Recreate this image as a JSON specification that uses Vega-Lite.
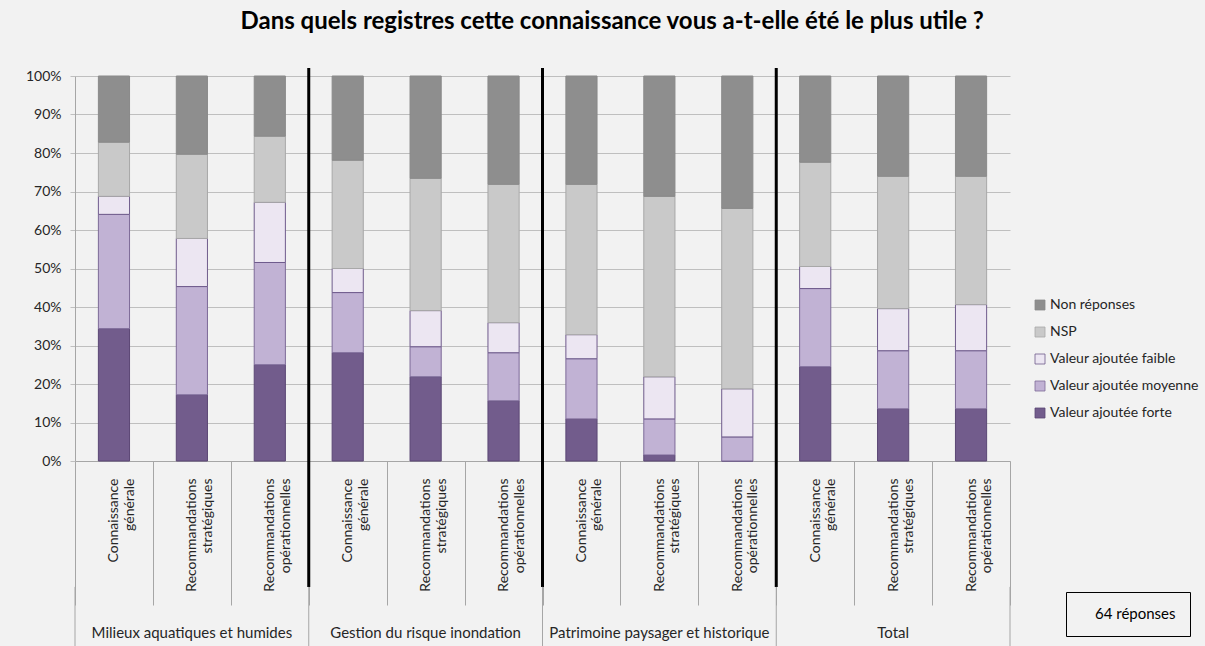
{
  "$schema": "https://vega.github.io/schema/vega-lite/v6.json",
  "width": 935,
  "height": 385,
  "autosize": {"type": "none"},
  "padding": {"left": 75, "top": 76, "right": 195, "bottom": 185},
  "background": "#f2f2f2",
  "config": {
    "view": {"stroke": null},
    "font": "Lato",
    "axisY": {"tickCount": 10, "tickSize": 5, "labelPadding": 9, "labelFontSize": 14, "labelColor": "#262626", "gridColor": "#bfbfbf", "gridWidth": 1.2, "tickColor": "#bfbfbf", "domainColor": "#a6a6a6"}
  },
  "title": {
    "text": "Dans quels registres cette connaissance vous a-t-elle été le plus utile ?",
    "font": "Lato", "fontSize": 24, "fontWeight": "bold", "color": "#000000",
    "anchor": "middle", "frame": "bounds", "offset": 32
  },
  "data": {"values": [
    {"groupe": "Milieux aquatiques et humides", "registre": "Connaissance générale", "barre": "Milieux aquatiques et humides / Connaissance générale", "Valeur ajoutée forte": 22, "Valeur ajoutée moyenne": 19, "Valeur ajoutée faible": 3, "NSP": 9, "Non réponses": 11},
    {"groupe": "Milieux aquatiques et humides", "registre": "Recommandations stratégiques", "barre": "Milieux aquatiques et humides / Recommandations stratégiques", "Valeur ajoutée forte": 11, "Valeur ajoutée moyenne": 18, "Valeur ajoutée faible": 8, "NSP": 14, "Non réponses": 13},
    {"groupe": "Milieux aquatiques et humides", "registre": "Recommandations opérationnelles", "barre": "Milieux aquatiques et humides / Recommandations opérationnelles", "Valeur ajoutée forte": 16, "Valeur ajoutée moyenne": 17, "Valeur ajoutée faible": 10, "NSP": 11, "Non réponses": 10},
    {"groupe": "Gestion du risque inondation", "registre": "Connaissance générale", "barre": "Gestion du risque inondation / Connaissance générale", "Valeur ajoutée forte": 18, "Valeur ajoutée moyenne": 10, "Valeur ajoutée faible": 4, "NSP": 18, "Non réponses": 14},
    {"groupe": "Gestion du risque inondation", "registre": "Recommandations stratégiques", "barre": "Gestion du risque inondation / Recommandations stratégiques", "Valeur ajoutée forte": 14, "Valeur ajoutée moyenne": 5, "Valeur ajoutée faible": 6, "NSP": 22, "Non réponses": 17},
    {"groupe": "Gestion du risque inondation", "registre": "Recommandations opérationnelles", "barre": "Gestion du risque inondation / Recommandations opérationnelles", "Valeur ajoutée forte": 10, "Valeur ajoutée moyenne": 8, "Valeur ajoutée faible": 5, "NSP": 23, "Non réponses": 18},
    {"groupe": "Patrimoine paysager et historique", "registre": "Connaissance générale", "barre": "Patrimoine paysager et historique / Connaissance générale", "Valeur ajoutée forte": 7, "Valeur ajoutée moyenne": 10, "Valeur ajoutée faible": 4, "NSP": 25, "Non réponses": 18},
    {"groupe": "Patrimoine paysager et historique", "registre": "Recommandations stratégiques", "barre": "Patrimoine paysager et historique / Recommandations stratégiques", "Valeur ajoutée forte": 1, "Valeur ajoutée moyenne": 6, "Valeur ajoutée faible": 7, "NSP": 30, "Non réponses": 20},
    {"groupe": "Patrimoine paysager et historique", "registre": "Recommandations opérationnelles", "barre": "Patrimoine paysager et historique / Recommandations opérationnelles", "Valeur ajoutée forte": 0, "Valeur ajoutée moyenne": 4, "Valeur ajoutée faible": 8, "NSP": 30, "Non réponses": 22},
    {"groupe": "Total", "registre": "Connaissance générale", "barre": "Total / Connaissance générale", "Valeur ajoutée forte": 47, "Valeur ajoutée moyenne": 39, "Valeur ajoutée faible": 11, "NSP": 52, "Non réponses": 43},
    {"groupe": "Total", "registre": "Recommandations stratégiques", "barre": "Total / Recommandations stratégiques", "Valeur ajoutée forte": 26, "Valeur ajoutée moyenne": 29, "Valeur ajoutée faible": 21, "NSP": 66, "Non réponses": 50},
    {"groupe": "Total", "registre": "Recommandations opérationnelles", "barre": "Total / Recommandations opérationnelles", "Valeur ajoutée forte": 26, "Valeur ajoutée moyenne": 29, "Valeur ajoutée faible": 23, "NSP": 64, "Non réponses": 50}
  ]},
  "layer": [
    {
      "transform": [
        {"fold": ["Valeur ajoutée forte", "Valeur ajoutée moyenne", "Valeur ajoutée faible", "NSP", "Non réponses"], "as": ["serie", "n"]},
        {"window": [{"op": "row_number", "as": "rang"}], "groupby": ["barre"]}
      ],
      "mark": {"type": "bar", "width": {"band": 0.4}, "strokeWidth": 1},
      "encoding": {
        "x": {
          "field": "barre", "type": "nominal", "sort": null,
          "scale": {"paddingInner": 0, "paddingOuter": 0},
          "axis": {
            "title": null, "grid": false,
            "labelExpr": "length(split(datum.label, ' / ')) > 1 ? split(split(datum.label, ' / ')[1], ' ') : ''",
            "labelAngle": -90, "labelAlign": "right", "labelBaseline": "middle",
            "labelPadding": -127, "labelFontSize": 14, "labelLineHeight": 15.5,
            "labelColor": "#262626", "labelOverlap": false, "labelLimit": 0,
            "tickBand": "extent", "tickSize": 144, "tickColor": "#a6a6a6",
            "domainColor": "#a6a6a6"
          }
        },
        "y": {
          "field": "n", "type": "quantitative", "stack": "normalize",
          "scale": {"domain": [0, 1]},
          "axis": {"title": null, "format": "%", "tickCount": 10}
        },
        "order": {"field": "rang", "type": "quantitative"},
        "color": {
          "field": "serie", "type": "nominal",
          "scale": {
            "domain": ["Non réponses", "NSP", "Valeur ajoutée faible", "Valeur ajoutée moyenne", "Valeur ajoutée forte"],
            "range": ["#8e8e8e", "#c9c9c9", "#ece6f2", "#c1b2d4", "#725c8c"]
          },
          "legend": {
            "title": null, "orient": "none", "legendX": 958, "legendY": 222,
            "symbolType": "square", "symbolSize": 100, "labelFontSize": 14, "labelColor": "#262626",
            "rowPadding": 13, "labelOffset": 3, "symbolStrokeColor": "#7a6a90", "symbolStrokeWidth": 0.8
          }
        },
        "stroke": {
          "field": "serie", "type": "nominal",
          "scale": {
            "domain": ["Non réponses", "NSP", "Valeur ajoutée faible", "Valeur ajoutée moyenne", "Valeur ajoutée forte"],
            "range": ["#8a8a8a", "#a8a8a8", "#6f5b8c", "#7d6a98", "#5b4775"]
          },
          "legend": null
        }
      }
    },
    {
      "transform": [
        {"filter": "datum.registre == 'Connaissance générale' && datum.groupe != 'Milieux aquatiques et humides'"}
      ],
      "mark": {"type": "rule", "color": "#000000", "strokeWidth": 3},
      "encoding": {
        "x": {"field": "barre", "type": "nominal", "bandPosition": 0, "sort": null},
        "y": {"datum": 1.021, "type": "quantitative"},
        "y2": {"datum": -0.327},
        "strokeDash": {
          "datum": "64 réponses",
          "scale": {"range": [[1, 0]]},
          "legend": {
            "title": null, "orient": "none", "legendX": 991, "legendY": 516,
            "strokeColor": "#000000", "padding": 14, "symbolOpacity": 0, "symbolSize": 0,
            "symbolStrokeWidth": 0, "labelOffset": 0, "labelFontSize": 15, "labelColor": "#000000"
          }
        }
      }
    },
    {
      "transform": [
        {"filter": "datum.registre == 'Connaissance générale'"}
      ],
      "mark": {"type": "rule", "color": "#a6a6a6", "strokeWidth": 1},
      "encoding": {
        "x": {"field": "barre", "type": "nominal", "bandPosition": 0, "sort": null},
        "y": {"datum": -0.327, "type": "quantitative"},
        "y2": {"datum": -0.482}
      }
    },
    {
      "transform": [
        {"filter": "datum.barre == 'Total / Recommandations opérationnelles'"}
      ],
      "mark": {"type": "rule", "color": "#a6a6a6", "strokeWidth": 1},
      "encoding": {
        "x": {"field": "barre", "type": "nominal", "bandPosition": 1, "sort": null},
        "y": {"datum": -0.327, "type": "quantitative"},
        "y2": {"datum": -0.482}
      }
    },
    {
      "transform": [
        {"filter": "datum.registre == 'Recommandations stratégiques'"}
      ],
      "mark": {"type": "text", "fontSize": 15, "color": "#262626", "baseline": "middle", "align": "center"},
      "encoding": {
        "x": {"field": "barre", "type": "nominal", "sort": null},
        "y": {"datum": -0.448, "type": "quantitative"},
        "text": {"field": "groupe"}
      }
    }
  ]
}
